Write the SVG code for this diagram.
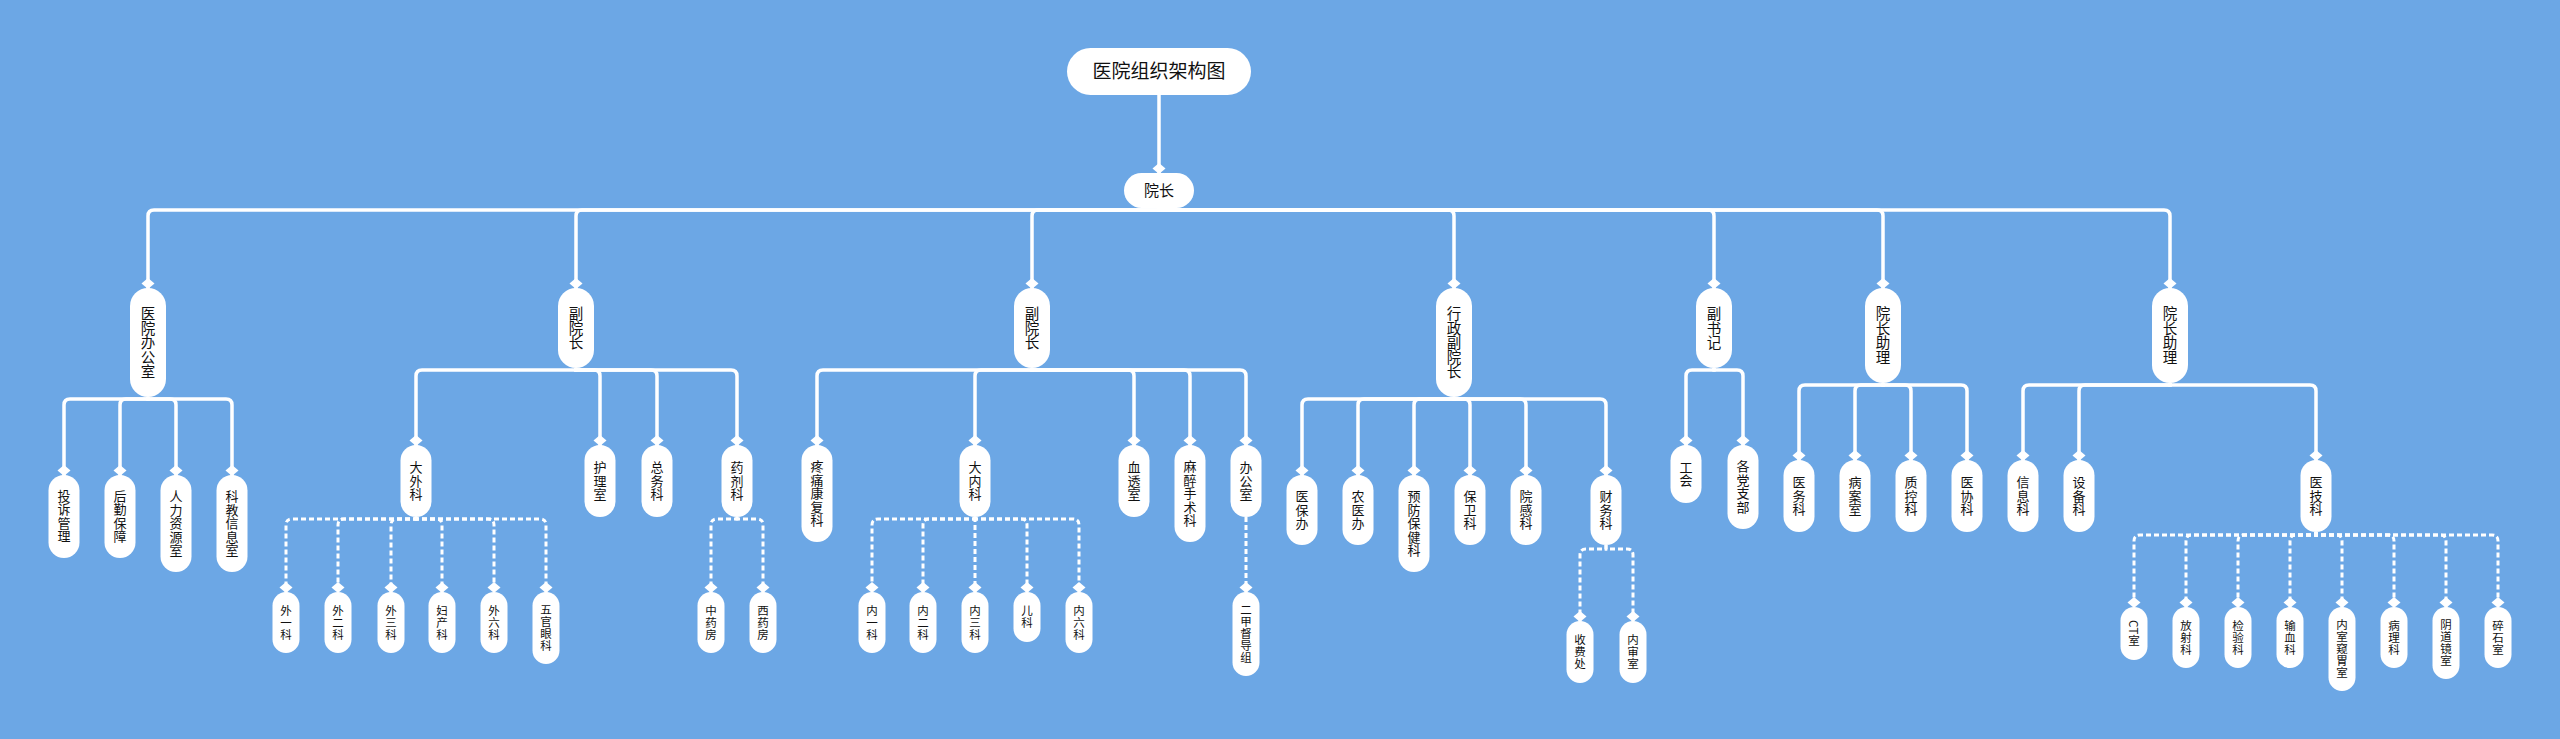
<svg xmlns="http://www.w3.org/2000/svg" width="2560" height="739" viewBox="0 0 2560 739">
<style>
.bg{fill:#6CA7E5}
.n rect{fill:#fff}
.t{font-family:"Noto Sans CJK SC","Noto Sans",sans-serif;fill:#111;text-anchor:middle}
.v{writing-mode:vertical-rl;dominant-baseline:central}
.l1{font-size:14.5px}
.l2{font-size:13px;letter-spacing:0.5px}
.l3{font-size:11.5px;letter-spacing:0.5px}
.c path{fill:none;stroke:#fff;stroke-width:3.5;marker-end:url(#dm)}
.c path.d{stroke-width:3;stroke-dasharray:5 3}
</style>
<defs>
<marker id="dm" markerUnits="userSpaceOnUse" viewBox="-1 -8 14 16" refX="11" refY="0" markerWidth="14" markerHeight="16" orient="auto">
<path d="M0,0 L5.5,-6.5 L11,0 L5.5,6.5 Z" fill="#fff" stroke="none"/>
</marker>
</defs>
<rect class="bg" x="0" y="0" width="2560" height="739"/>
<g class="c" id="connectors">
<path d="M1159,95V174"/>
<path d="M1159,208V210H154Q148,210 148,216V289"/>
<path d="M1159,208V210H582Q576,210 576,216V289"/>
<path d="M1159,208V210H1038Q1032,210 1032,216V289"/>
<path d="M1159,208V210H1448Q1454,210 1454,216V289"/>
<path d="M1159,208V210H1708Q1714,210 1714,216V289"/>
<path d="M1159,208V210H1877Q1883,210 1883,216V289"/>
<path d="M1159,208V210H2164Q2170,210 2170,216V289"/>
<path d="M148,397V399H70Q64,399 64,405V476"/>
<path d="M148,397V399H126Q120,399 120,405V476"/>
<path d="M148,397V399H170Q176,399 176,405V476"/>
<path d="M148,397V399H226Q232,399 232,405V476"/>
<path d="M576,368V370H422Q416,370 416,376V446"/>
<path d="M576,368V370H594Q600,370 600,376V446"/>
<path d="M576,368V370H651Q657,370 657,376V446"/>
<path d="M576,368V370H731Q737,370 737,376V446"/>
<path d="M1032,368V370H823Q817,370 817,376V446"/>
<path d="M1032,368V370H981Q975,370 975,376V446"/>
<path d="M1032,368V370H1128Q1134,370 1134,376V446"/>
<path d="M1032,368V370H1184Q1190,370 1190,376V446"/>
<path d="M1032,368V370H1240Q1246,370 1246,376V446"/>
<path d="M1454,397V399H1308Q1302,399 1302,405V476"/>
<path d="M1454,397V399H1364Q1358,399 1358,405V476"/>
<path d="M1454,397V399H1420Q1414,399 1414,405V476"/>
<path d="M1454,397V399H1464Q1470,399 1470,405V476"/>
<path d="M1454,397V399H1520Q1526,399 1526,405V476"/>
<path d="M1454,397V399H1600Q1606,399 1606,405V476"/>
<path d="M1714,368V370H1692Q1686,370 1686,376V446"/>
<path d="M1714,368V370H1737Q1743,370 1743,376V446"/>
<path d="M1883,383V385H1805Q1799,385 1799,391V461"/>
<path d="M1883,383V385H1861Q1855,385 1855,391V461"/>
<path d="M1883,383V385H1905Q1911,385 1911,391V461"/>
<path d="M1883,383V385H1961Q1967,385 1967,391V461"/>
<path d="M2170,383V385H2029Q2023,385 2023,391V461"/>
<path d="M2170,383V385H2085Q2079,385 2079,391V461"/>
<path d="M2170,383V385H2310Q2316,385 2316,391V461"/>
<path class="d" d="M416,517V519H292Q286,519 286,525V593"/>
<path class="d" d="M416,517V519H344Q338,519 338,525V593"/>
<path class="d" d="M416,517V519H397Q391,519 391,525V593"/>
<path class="d" d="M416,517V519H436Q442,519 442,525V593"/>
<path class="d" d="M416,517V519H488Q494,519 494,525V593"/>
<path class="d" d="M416,517V519H540Q546,519 546,525V593"/>
<path class="d" d="M737,517V519H717Q711,519 711,525V593"/>
<path class="d" d="M737,517V519H757Q763,519 763,525V593"/>
<path class="d" d="M975,517V519H878Q872,519 872,525V593"/>
<path class="d" d="M975,517V519H929Q923,519 923,525V593"/>
<path class="d" d="M975,517V593"/>
<path class="d" d="M975,517V519H1021Q1027,519 1027,525V593"/>
<path class="d" d="M975,517V519H1073Q1079,519 1079,525V593"/>
<path class="d" d="M1246,517V593"/>
<path class="d" d="M1606,545V549H1586Q1580,549 1580,555V622"/>
<path class="d" d="M1606,545V549H1627Q1633,549 1633,555V622"/>
<path class="d" d="M2316,532V535H2140Q2134,535 2134,541V608"/>
<path class="d" d="M2316,532V535H2192Q2186,535 2186,541V608"/>
<path class="d" d="M2316,532V535H2244Q2238,535 2238,541V608"/>
<path class="d" d="M2316,532V535H2296Q2290,535 2290,541V608"/>
<path class="d" d="M2316,532V535H2336Q2342,535 2342,541V608"/>
<path class="d" d="M2316,532V535H2388Q2394,535 2394,541V608"/>
<path class="d" d="M2316,532V535H2440Q2446,535 2446,541V608"/>
<path class="d" d="M2316,532V535H2492Q2498,535 2498,541V608"/>
</g>
<g class="n" id="root"><rect x="1067" y="48" width="184" height="47" rx="23.5"/><text class="t" x="1159" y="78" font-size="19">医院组织架构图</text></g>
<g class="n" id="yuanzhang"><rect x="1124" y="173" width="70" height="35" rx="17.5"/><text class="t" x="1159" y="196" font-size="15">院长</text></g>
<g class="n" id="n-ybgs"><rect x="130" y="288" width="36" height="109" rx="18"/><text class="t v l1" x="148" y="342.5">医院办公室</text></g>
<g class="n" id="n-fyz1"><rect x="558" y="288" width="36" height="80" rx="18"/><text class="t v l1" x="576" y="328">副院长</text></g>
<g class="n" id="n-fyz2"><rect x="1014" y="288" width="36" height="80" rx="18"/><text class="t v l1" x="1032" y="328">副院长</text></g>
<g class="n" id="n-xzfyz"><rect x="1436" y="288" width="36" height="109" rx="18"/><text class="t v l1" x="1454" y="342.5">行政副院长</text></g>
<g class="n" id="n-fsj"><rect x="1696" y="288" width="36" height="80" rx="18"/><text class="t v l1" x="1714" y="328">副书记</text></g>
<g class="n" id="n-yzzl1"><rect x="1865" y="288" width="36" height="95" rx="18"/><text class="t v l1" x="1883" y="335.5">院长助理</text></g>
<g class="n" id="n-yzzl2"><rect x="2152" y="288" width="36" height="95" rx="18"/><text class="t v l1" x="2170" y="335.5">院长助理</text></g>
<g class="n" id="n-tsgl"><rect x="48.5" y="475" width="31" height="83" rx="15.5"/><text class="t v l2" x="64" y="516.5">投诉管理</text></g>
<g class="n" id="n-hqbz"><rect x="104.5" y="475" width="31" height="83" rx="15.5"/><text class="t v l2" x="120" y="516.5">后勤保障</text></g>
<g class="n" id="n-rlzy"><rect x="160.5" y="475" width="31" height="97" rx="15.5"/><text class="t v l2" x="176" y="523.5">人力资源室</text></g>
<g class="n" id="n-kjxx"><rect x="216.5" y="475" width="31" height="97" rx="15.5"/><text class="t v l2" x="232" y="523.5">科教信息室</text></g>
<g class="n" id="n-dwk"><rect x="400.5" y="445" width="31" height="72" rx="15.5"/><text class="t v l2" x="416" y="481">大外科</text></g>
<g class="n" id="n-hls"><rect x="584.5" y="445" width="31" height="72" rx="15.5"/><text class="t v l2" x="600" y="481">护理室</text></g>
<g class="n" id="n-zwk"><rect x="641.5" y="445" width="31" height="72" rx="15.5"/><text class="t v l2" x="657" y="481">总务科</text></g>
<g class="n" id="n-yjk"><rect x="721.5" y="445" width="31" height="72" rx="15.5"/><text class="t v l2" x="737" y="481">药剂科</text></g>
<g class="n" id="n-ttkf"><rect x="801.5" y="445" width="31" height="97" rx="15.5"/><text class="t v l2" x="817" y="493.5">疼痛康复科</text></g>
<g class="n" id="n-dnk"><rect x="959.5" y="445" width="31" height="72" rx="15.5"/><text class="t v l2" x="975" y="481">大内科</text></g>
<g class="n" id="n-xts"><rect x="1118.5" y="445" width="31" height="72" rx="15.5"/><text class="t v l2" x="1134" y="481">血透室</text></g>
<g class="n" id="n-mzss"><rect x="1174.5" y="445" width="31" height="97" rx="15.5"/><text class="t v l2" x="1190" y="493.5">麻醉手术科</text></g>
<g class="n" id="n-bgs"><rect x="1230.5" y="445" width="31" height="72" rx="15.5"/><text class="t v l2" x="1246" y="481">办公室</text></g>
<g class="n" id="n-ybb"><rect x="1286.5" y="475" width="31" height="70" rx="15.5"/><text class="t v l2" x="1302" y="510">医保办</text></g>
<g class="n" id="n-nyb"><rect x="1342.5" y="475" width="31" height="70" rx="15.5"/><text class="t v l2" x="1358" y="510">农医办</text></g>
<g class="n" id="n-yfbj"><rect x="1398.5" y="475" width="31" height="97" rx="15.5"/><text class="t v l2" x="1414" y="523.5">预防保健科</text></g>
<g class="n" id="n-bwk"><rect x="1454.5" y="475" width="31" height="70" rx="15.5"/><text class="t v l2" x="1470" y="510">保卫科</text></g>
<g class="n" id="n-ygk"><rect x="1510.5" y="475" width="31" height="70" rx="15.5"/><text class="t v l2" x="1526" y="510">院感科</text></g>
<g class="n" id="n-cwk"><rect x="1590.5" y="475" width="31" height="70" rx="15.5"/><text class="t v l2" x="1606" y="510">财务科</text></g>
<g class="n" id="n-gh"><rect x="1670.5" y="445" width="31" height="58" rx="15.5"/><text class="t v l2" x="1686" y="474">工会</text></g>
<g class="n" id="n-gdzb"><rect x="1727.5" y="445" width="31" height="84" rx="15.5"/><text class="t v l2" x="1743" y="487">各党支部</text></g>
<g class="n" id="n-ywk"><rect x="1783.5" y="460" width="31" height="72" rx="15.5"/><text class="t v l2" x="1799" y="496">医务科</text></g>
<g class="n" id="n-bas"><rect x="1839.5" y="460" width="31" height="72" rx="15.5"/><text class="t v l2" x="1855" y="496">病案室</text></g>
<g class="n" id="n-zkk"><rect x="1895.5" y="460" width="31" height="72" rx="15.5"/><text class="t v l2" x="1911" y="496">质控科</text></g>
<g class="n" id="n-yxk"><rect x="1951.5" y="460" width="31" height="72" rx="15.5"/><text class="t v l2" x="1967" y="496">医协科</text></g>
<g class="n" id="n-xxk"><rect x="2007.5" y="460" width="31" height="72" rx="15.5"/><text class="t v l2" x="2023" y="496">信息科</text></g>
<g class="n" id="n-sbk"><rect x="2063.5" y="460" width="31" height="72" rx="15.5"/><text class="t v l2" x="2079" y="496">设备科</text></g>
<g class="n" id="n-yjik"><rect x="2300.5" y="460" width="31" height="72" rx="15.5"/><text class="t v l2" x="2316" y="496">医技科</text></g>
<g class="n" id="n-w1"><rect x="272.5" y="592" width="27" height="61" rx="13.5"/><text class="t v l3" x="286" y="622.5">外一科</text></g>
<g class="n" id="n-w2"><rect x="324.5" y="592" width="27" height="61" rx="13.5"/><text class="t v l3" x="338" y="622.5">外二科</text></g>
<g class="n" id="n-w3"><rect x="377.5" y="592" width="27" height="61" rx="13.5"/><text class="t v l3" x="391" y="622.5">外三科</text></g>
<g class="n" id="n-fck"><rect x="428.5" y="592" width="27" height="61" rx="13.5"/><text class="t v l3" x="442" y="622.5">妇产科</text></g>
<g class="n" id="n-w6"><rect x="480.5" y="592" width="27" height="61" rx="13.5"/><text class="t v l3" x="494" y="622.5">外六科</text></g>
<g class="n" id="n-wgyk"><rect x="532.5" y="592" width="27" height="72" rx="13.5"/><text class="t v l3" x="546" y="628">五官眼科</text></g>
<g class="n" id="n-zyf"><rect x="697.5" y="592" width="27" height="61" rx="13.5"/><text class="t v l3" x="711" y="622.5">中药房</text></g>
<g class="n" id="n-xyf"><rect x="749.5" y="592" width="27" height="61" rx="13.5"/><text class="t v l3" x="763" y="622.5">西药房</text></g>
<g class="n" id="n-n1"><rect x="858.5" y="592" width="27" height="61" rx="13.5"/><text class="t v l3" x="872" y="622.5">内一科</text></g>
<g class="n" id="n-n2"><rect x="909.5" y="592" width="27" height="61" rx="13.5"/><text class="t v l3" x="923" y="622.5">内二科</text></g>
<g class="n" id="n-n3"><rect x="961.5" y="592" width="27" height="61" rx="13.5"/><text class="t v l3" x="975" y="622.5">内三科</text></g>
<g class="n" id="n-ek"><rect x="1013.5" y="592" width="27" height="50" rx="13.5"/><text class="t v l3" x="1027" y="617">儿科</text></g>
<g class="n" id="n-n6"><rect x="1065.5" y="592" width="27" height="61" rx="13.5"/><text class="t v l3" x="1079" y="622.5">内六科</text></g>
<g class="n" id="n-ejdd"><rect x="1232.5" y="592" width="27" height="84" rx="13.5"/><text class="t v l3" x="1246" y="634">二甲督导组</text></g>
<g class="n" id="n-sfc"><rect x="1566.5" y="621" width="27" height="62" rx="13.5"/><text class="t v l3" x="1580" y="652">收费处</text></g>
<g class="n" id="n-nss"><rect x="1619.5" y="621" width="27" height="62" rx="13.5"/><text class="t v l3" x="1633" y="652">内审室</text></g>
<g class="n" id="n-ct"><rect x="2120.5" y="607" width="27" height="53" rx="13.5"/><text class="t v l3" x="2134" y="633.5">CT室</text></g>
<g class="n" id="n-fsk"><rect x="2172.5" y="607" width="27" height="61" rx="13.5"/><text class="t v l3" x="2186" y="637.5">放射科</text></g>
<g class="n" id="n-jyk"><rect x="2224.5" y="607" width="27" height="61" rx="13.5"/><text class="t v l3" x="2238" y="637.5">检验科</text></g>
<g class="n" id="n-sxk"><rect x="2276.5" y="607" width="27" height="61" rx="13.5"/><text class="t v l3" x="2290" y="637.5">输血科</text></g>
<g class="n" id="n-nskw"><rect x="2328.5" y="607" width="27" height="84" rx="13.5"/><text class="t v l3" x="2342" y="649">内室窥胃室</text></g>
<g class="n" id="n-blk"><rect x="2380.5" y="607" width="27" height="61" rx="13.5"/><text class="t v l3" x="2394" y="637.5">病理科</text></g>
<g class="n" id="n-ydjs"><rect x="2432.5" y="607" width="27" height="72" rx="13.5"/><text class="t v l3" x="2446" y="643">阴道镜室</text></g>
<g class="n" id="n-sss"><rect x="2484.5" y="607" width="27" height="61" rx="13.5"/><text class="t v l3" x="2498" y="637.5">碎石室</text></g>
</svg>
